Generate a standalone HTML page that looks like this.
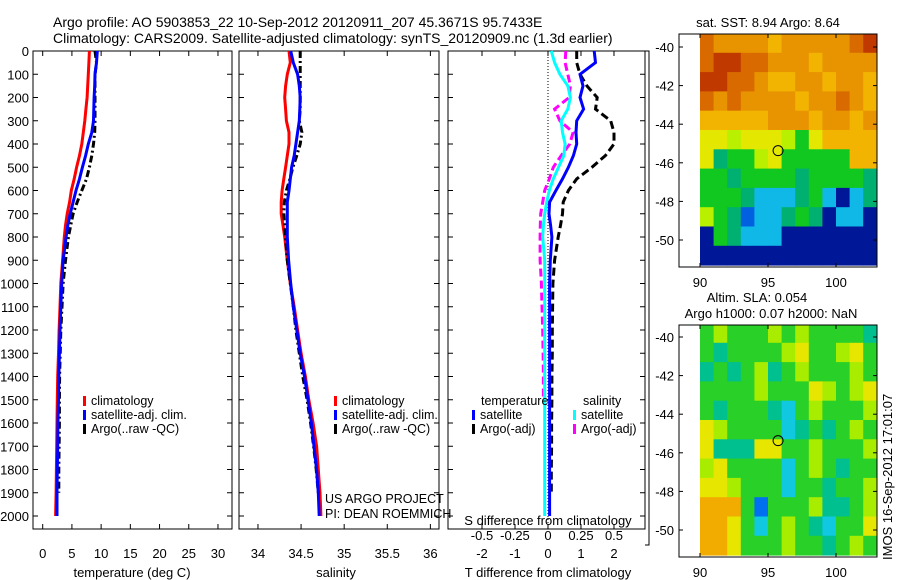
<!DOCTYPE html>
<html><head><meta charset="utf-8"><style>
html,body{margin:0;padding:0;background:#fff;}
svg{display:block;font-family:"Liberation Sans",sans-serif;}
</style></head><body>
<svg id="c" width="900" height="580" viewBox="0 0 900 580"></svg>
<script>
const depths=[0,50,100,150,200,250,300,350,400,450,500,550,600,650,700,750,800,900,1000,1100,1200,1300,1400,1500,1600,1700,1800,1900,2000];
const tempClim=[8.0,7.9,7.8,7.7,7.6,7.4,7.2,6.95,6.7,6.3,5.8,5.4,4.9,4.6,4.2,3.9,3.7,3.4,3.1,2.96,2.8,2.7,2.56,2.5,2.45,2.4,2.35,2.3,2.2];
const tempSat=[9.35,9.2,8.95,8.9,8.8,8.75,8.7,8.4,7.8,7.35,6.8,6.3,5.7,5.2,4.7,4.3,4.0,3.5,3.25,3.1,2.96,2.85,2.75,2.7,2.6,2.56,2.5,2.45,2.45];
const tempArgo=[8.95,9.2,8.95,8.95,8.95,8.95,8.95,8.9,8.7,8.4,8.0,7.5,6.7,5.9,5.2,4.8,4.4,3.9,3.5,3.3,3.1,3.0,2.9,2.85,2.85,2.8,2.75,2.75,null];
const salClim=[34.36,34.375,34.34,34.32,34.31,34.32,34.33,34.36,34.36,34.34,34.32,34.30,34.28,34.27,34.27,34.29,34.31,34.34,34.375,34.42,34.46,34.50,34.55,34.59,34.64,34.68,34.70,34.72,34.73];
const salSat=[34.38,34.41,34.46,34.48,34.49,34.485,34.48,34.46,34.44,34.42,34.39,34.375,34.36,34.34,34.34,34.34,34.34,34.355,34.38,34.41,34.45,34.49,34.54,34.58,34.62,34.65,34.68,34.70,34.71];
const salArgo=[34.49,34.49,34.49,34.49,34.49,34.49,34.48,34.51,34.49,34.45,34.405,34.37,34.33,34.305,34.30,34.31,34.32,34.34,34.375,34.41,34.44,34.48,34.52,34.57,34.61,34.645,34.675,34.70,null];
const dTsat=[1.4,1.44,0.97,1.06,0.97,1.08,0.87,0.85,0.87,0.77,0.62,0.44,0.24,0.05,0.03,0.08,0.12,0.07,0.05,0.05,0.05,0.05,0.05,0.05,0.05,0.05,0.05,0.05,0.05];
const dTargo=[0.87,0.87,0.97,1.18,1.49,1.44,1.9,2.0,2.0,1.74,1.33,0.87,0.62,0.46,0.44,0.38,0.31,0.2,0.15,0.14,0.13,0.13,0.12,0.12,0.11,0.11,0.1,0.1,null];
const dSsat=[0.025,0.05,0.09,0.15,0.17,0.15,0.10,0.11,0.13,0.12,0.08,0.04,0.01,-0.01,-0.025,-0.035,-0.04,-0.025,-0.025,-0.025,-0.025,-0.025,-0.025,-0.025,-0.025,-0.025,-0.025,-0.025,-0.025];
const dSargo=[0.135,0.13,0.15,0.17,0.16,0.05,0.09,0.19,0.165,0.10,0.04,0.01,-0.025,-0.04,-0.055,-0.058,-0.06,-0.06,-0.05,-0.045,-0.04,-0.037,-0.035,-0.035,null,null,null,null,null];
const depthTicks=[0,100,200,300,400,500,600,700,800,900,1000,1100,1200,1300,1400,1500,1600,1700,1800,1900,2000];
const tempTicks=[0,5,10,15,20,25,30];
const salTicks=[34,34.5,35,35.5,36];
const dTTicks=[-2,-1,0,1,2];
const dSTicks=[-0.5,-0.25,0,0.25,0.5];
const dSTickLabels=["-0.5","-0.25","0","0.25","0.5"];
const sstGrid=["ROOOOYOOOOORD","RDDRROOOYOOOO","DDRROYYOOYOOY","ROROOOOYOOROY","YYYYYOOOYOOYO","LLlLLLlGLYYYY","LgGGlLGGGGGYY","GGgGGGGgGGGGg","GGGgCCCgGCNCg","lGgBCCgGgNCCN","NGgCCCNNNNNNN","NNNNNNNNNNNNN"];
const slaGrid=["GlGGGlGlGGGGt","GtGGGGlyGGlyG","tGtGltGlGGGlG","GGGGlGGGylGly","GtGGGtcGlGGGl","ylGGGGctGtGlG","ytttyyGGlGGGl","lyGGGGcGlGtGG","yylGGGcGGtGGl","oooGbGGGlttGl","ooyGcGlGtcGGy","ooyGGGlGGtGlG"];
const sstColors={D:"#c03a00",R:"#d86a00",O:"#e89400",Y:"#f2b400",L:"#e4e800",l:"#b8f000",G:"#10c820",g:"#00b070",C:"#10b8e8",B:"#0060e0",N:"#001898"};
const slaColors={G:"#28d028",l:"#a8ec00",y:"#e6e600",o:"#f2ac00",t:"#00c090",c:"#10c8e0",b:"#0070f0"};

const NS="http://www.w3.org/2000/svg";
const svg=document.getElementById('c');
function el(t,a,p){const e=document.createElementNS(NS,t);for(const k in a)e.setAttribute(k,a[k]);(p||svg).appendChild(e);return e;}
function txt(s,x,y,a,p){const e=el('text',Object.assign({x:x,y:y,'font-size':13,fill:'#000'},a||{}),p);e.textContent=s;return e;}
const Y0=51,YB=529,DPX=0.2325;
const yD=d=>Y0+d*DPX;
function panel(name,x0,x1,xmin,xmax){
  const g=el('g',{});
  
  
  el('rect',{x:x0,y:Y0,width:x1-x0,height:YB-Y0,fill:'none',stroke:'#000','stroke-width':1},g);
  const sx=v=>x0+(v-xmin)/(xmax-xmin)*(x1-x0);
  depthTicks.forEach(d=>{el('line',{x1:x0,x2:x0+5,y1:yD(d),y2:yD(d),stroke:'#000'},g);el('line',{x1:x1,x2:x1-5,y1:yD(d),y2:yD(d),stroke:'#000'},g);});
  return {g,sx};
}
function series(p,vals,xs,color,dash,name){
  let d='';let started=false;
  depths.forEach((dep,i)=>{const v=vals[i];if(v===null||v===undefined){return;}d+=(started?'L':'M')+xs(v).toFixed(1)+' '+yD(dep).toFixed(1)+' ';started=true;});
  const a={d:d,fill:'none',stroke:color,'stroke-width':3};
  if(dash)a['stroke-dasharray']=dash;
  const e=el('path',a,p.g);
  
  
}
function xticks(p,ticks,labels,yl,g,top){
  ticks.forEach((t,i)=>{const x=p.sx(t);
    el('line',{x1:x,x2:x,y1:YB,y2:YB-5,stroke:'#000'},p.g);
    if(top)el('line',{x1:x,x2:x,y1:Y0,y2:Y0+5,stroke:'#000'},p.g);
    txt(labels?labels[i]:String(t),x,yl,{'text-anchor':'middle'},p.g);});
}
const t1=txt('Argo profile: AO 5903853_22 10-Sep-2012 20120911_207 45.3671S 95.7433E',53,27,{'font-size':14});

const t2=txt('Climatology: CARS2009. Satellite-adjusted climatology: synTS_20120909.nc (1.3d earlier)',53,43,{'font-size':14});


const p1=panel('temperature-panel',33,232,-1.66,32.4);
depthTicks.forEach(d=>txt(String(d),29,yD(d)+5,{'text-anchor':'end'},p1.g));
xticks(p1,tempTicks,null,558,null,true);
txt('temperature (deg C)',132,577,{'text-anchor':'middle'},p1.g);
series(p1,tempClim,p1.sx,'#ff0000',null,'temp-climatology-line');
series(p1,tempArgo,p1.sx,'#000000','7 3 2 3','temp-argo-line');
series(p1,tempSat,p1.sx,'#0000ff',null,'temp-satellite-line');
function legend(g,x,y,items){
  items.forEach((it,i)=>{const yy=y+i*14;
    el('rect',{x:x,y:yy-9,width:3,height:10,fill:it[0]},g);
    const e=txt(it[1],x+8,yy,{'font-size':12.5},g);
    });
}
legend(p1.g,83,405,[['#ff0000','climatology'],['#0000ff','satellite-adj. clim.'],['#000','Argo(..raw -QC)']]);

const p2=panel('salinity-panel',239,439,33.78,36.1);
xticks(p2,salTicks,null,558,null,true);
txt('salinity',336,577,{'text-anchor':'middle'},p2.g);
series(p2,salClim,p2.sx,'#ff0000',null,'sal-climatology-line');
series(p2,salArgo,p2.sx,'#000000','7 3 2 3','sal-argo-line');
series(p2,salSat,p2.sx,'#0000ff',null,'sal-satellite-line');
legend(p2.g,334,405,[['#ff0000','climatology'],['#0000ff','satellite-adj. clim.'],['#000','Argo(..raw -QC)']]);
txt('US ARGO PROJECT',325,503,{'font-size':12.5},p2.g);
txt('PI: DEAN ROEMMICH',325,518,{'font-size':12.5},p2.g);

const p3=panel('difference-panel',448,645,-3.03,2.94);
const sS=v=>p3.sx(v*4);
el('line',{x1:p3.sx(0),x2:p3.sx(0),y1:Y0,y2:YB,stroke:'#000','stroke-dasharray':'1 2'},p3.g);
xticks(p3,dTTicks,null,558,null,false);
dTTicks.forEach(t=>el('line',{x1:p3.sx(t),x2:p3.sx(t),y1:Y0,y2:Y0+5,stroke:'#000'},p3.g));
dSTicks.forEach((t,i)=>txt(dSTickLabels[i],sS(t),540,{'text-anchor':'middle'},p3.g));
txt('S difference from climatology',548,525,{'text-anchor':'middle'},p3.g);
txt('T difference from climatology',548,577,{'text-anchor':'middle'},p3.g);
series(p3,dSargo,sS,'#ff00ff','8 4','sdiff-argo-line');
series(p3,dSsat,sS,'#00ffff',null,'sdiff-satellite-line');
series(p3,dTargo,p3.sx,'#000000','8 4','tdiff-argo-line');
series(p3,dTsat,p3.sx,'#0000ff',null,'tdiff-satellite-line');
txt('temperature',481,405,{'font-size':12.5},p3.g);
txt('salinity',583,405,{'font-size':12.5},p3.g);
legend(p3.g,472,419,[['#0000ff','satellite'],['#000','Argo(-adj)']]);
legend(p3.g,573,419,[['#00ffff','satellite'],['#ff00ff','Argo(-adj)']]);
el('path',{d:'M645 51H649V545H645',fill:'none',stroke:'#000'});

function map(name,top,bottom,grid,colors,title){
  const g=el('g',{});
  
  
  const L=679,R=877;
  const sx=lon=>700+(lon-90)*13.6;
  const y0=(top===34)?47:337;
  const sy=lat=>y0+(-40-lat)*19.3;
  grid.forEach((row,r)=>{for(let c=0;c<row.length;c++){
    const la=-39.3-r, lo=90+c;
    const ya=Math.max(top,sy(la)), yb=Math.min(bottom,sy(la-1));
    const xa=sx(lo), xb=Math.min(R,sx(lo+1));
    el('rect',{x:xa,y:ya,width:xb-xa+0.5,height:yb-ya+0.5,fill:colors[row[c]]},g);}});
  el('rect',{x:L,y:top,width:R-L,height:bottom-top,fill:'none',stroke:'#000'},g);
  [-40,-42,-44,-46,-48,-50].forEach(la=>{const y=sy(la);el('line',{x1:L,x2:L+4,y1:y,y2:y,stroke:'#000'},g);el('line',{x1:R,x2:R-4,y1:y,y2:y,stroke:'#000'},g);txt(String(la),674,y+5,{'text-anchor':'end'},g);});
  [90,95,100].forEach(lo=>{const x=sx(lo);el('line',{x1:x,x2:x,y1:bottom,y2:bottom-4,stroke:'#000'},g);el('line',{x1:x,x2:x,y1:top,y2:top+4,stroke:'#000'},g);txt(String(lo),x,bottom+20,{'text-anchor':'middle'},g);});
  el('circle',{cx:sx(95.74),cy:sy(-45.37),r:5,fill:'none',stroke:'#000'},g);
  title.forEach(t=>txt(t[0],t[1],t[2],{'text-anchor':'middle'},g));
}
map('sst-map',34,267,sstGrid,sstColors,[['sat. SST: 8.94  Argo: 8.64',768,27]]);
map('sla-map',325,557,slaGrid,slaColors,[['Altim. SLA: 0.054',757,302],['Argo h1000: 0.07 h2000: NaN',771,318]]);
const im=txt('IMOS 16-Sep-2012 17:01:07',0,0,{'font-size':13,transform:'translate(892,560) rotate(-90)'});

</script>
</body></html>
